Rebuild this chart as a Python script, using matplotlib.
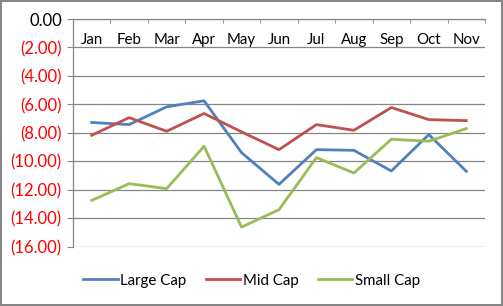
import matplotlib.pyplot as plt
from matplotlib.ticker import FuncFormatter

plt.rcParams['font.family'] = ['Lato', 'DejaVu Sans']

months = ['Jan', 'Feb', 'Mar', 'Apr', 'May', 'Jun',
          'Jul', 'Aug', 'Sep', 'Oct', 'Nov']
large_cap = [-7.27, -7.42, -6.17, -5.75, -9.39, -11.62,
             -9.18, -9.23, -10.68, -8.12, -10.70]
mid_cap = [-8.17, -6.93, -7.89, -6.64, -7.93, -9.18,
           -7.42, -7.82, -6.22, -7.07, -7.14]
small_cap = [-12.75, -11.57, -11.92, -8.94, -14.62, -13.40,
             -9.74, -10.82, -8.45, -8.59, -7.70]
y_ticks = [0, -2, -4, -6, -8, -10, -12, -14, -16]

grid_col = '#868686'

fig = plt.figure(figsize=(5.03, 3.06), dpi=100)
ax = fig.add_axes([0.1451, 0.1938, 0.8191, 0.7441])

x = list(range(len(months)))
ax.plot(x, large_cap, color='#4F81BD', lw=2.0, label='Large Cap')
ax.plot(x, mid_cap, color='#C0504D', lw=2.0, label='Mid Cap')
ax.plot(x, small_cap, color='#9BBB59', lw=2.0, label='Small Cap')

ax.set_xlim(-0.5, len(months) - 0.5)
ax.set_ylim(-16, 0)

# category axis sits at the top (y = 0), labels just below it
ax.set_xticks(x)
ax.set_xticklabels(months)
ax.set_xticks([i - 0.5 for i in range(len(months) + 1)], minor=True)
ax.tick_params(axis='x', which='major', top=True, bottom=False,
               labeltop=True, labelbottom=False, length=0, pad=-20,
               labelsize=10.8)
ax.tick_params(axis='x', which='minor', top=True, bottom=False,
               direction='in', length=3, color=grid_col)

ax.set_yticks(y_ticks)
ax.yaxis.set_major_formatter(FuncFormatter(
    lambda v, p: f'{v:.2f}' if v >= 0 else f'({-v:.2f})'))
ax.tick_params(axis='y', length=4, color=grid_col, labelsize=12, pad=4)
for lbl, v in zip(ax.get_yticklabels(), y_ticks):
    lbl.set_color('black' if v >= 0 else '#FF0000')

ax.grid(axis='y', color=grid_col, lw=0.9)
ax.set_axisbelow(True)
for side in ['bottom', 'right']:
    ax.spines[side].set_visible(False)
for side in ['top', 'left']:
    ax.spines[side].set_color(grid_col)
    ax.spines[side].set_linewidth(0.9)

fig.legend(loc='center', bbox_to_anchor=(0.5, 0.083), ncol=3,
           frameon=False, fontsize=10.8, handlelength=2.3,
           handletextpad=0.15, columnspacing=1.3)

fig.patch.set_edgecolor(grid_col)
fig.patch.set_linewidth(1.5)
fig.savefig('out.png', dpi=100, edgecolor=fig.get_edgecolor())
